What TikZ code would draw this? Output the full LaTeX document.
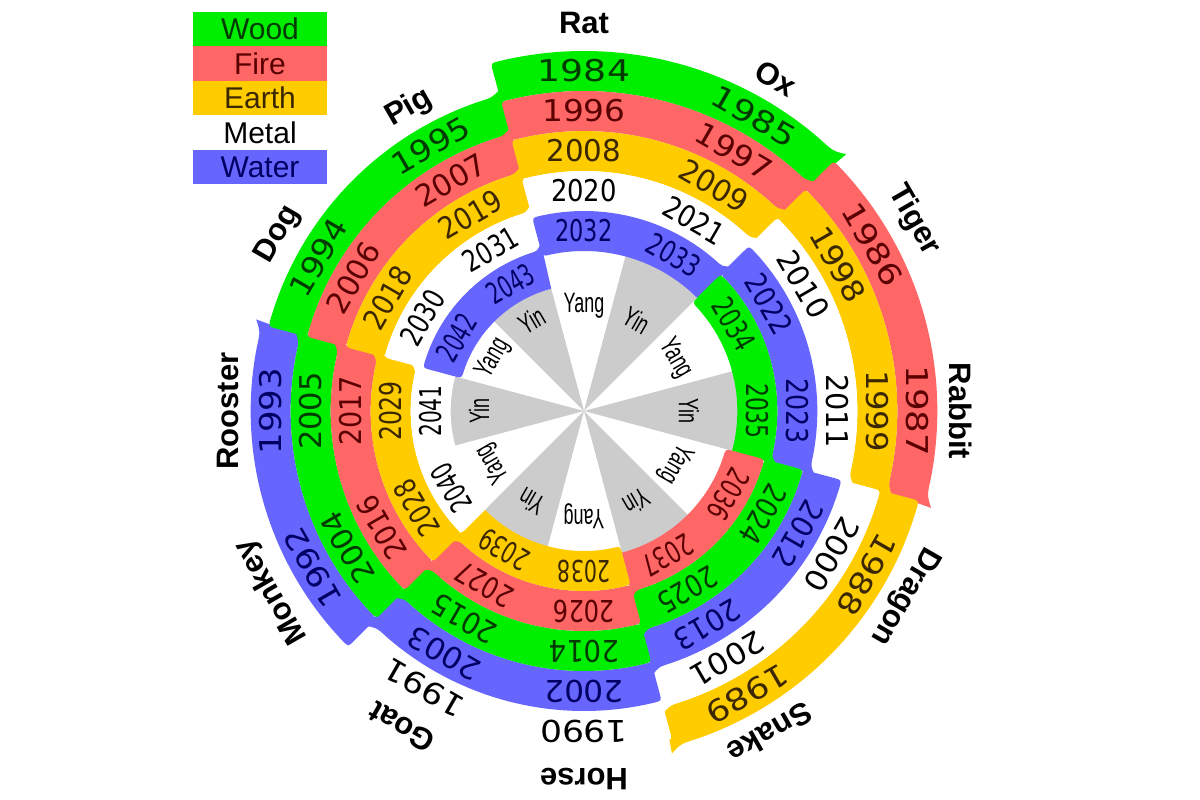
\documentclass[tikz,border=0pt]{standalone}
\usepackage{fontspec}
\usepackage{graphicx}
\setmainfont{Liberation Sans}
\newfontfamily\yearfont{DejaVu Sans}
\definecolor{c0}{RGB}{0,238,0}
\definecolor{c1}{RGB}{255,102,102}
\definecolor{c2}{RGB}{255,204,0}
\definecolor{c3}{RGB}{255,255,255}
\definecolor{c4}{RGB}{102,102,255}
\definecolor{t0}{RGB}{0,60,0}
\definecolor{t1}{RGB}{90,0,0}
\definecolor{t2}{RGB}{60,40,0}
\definecolor{t3}{RGB}{0,0,0}
\definecolor{t4}{RGB}{0,0,100}
\definecolor{wedgegray}{RGB}{204,204,204}
\begin{document}
\begin{tikzpicture}[x=1pt,y=1pt,
  yeartext/.style={inner sep=0pt, font=\yearfont\fontsize{30}{30}\selectfont},
  animal/.style={inner sep=0pt, font=\bfseries\fontsize{31}{31}\selectfont},
  yylab/.style={inner sep=0pt, font=\fontsize{28}{28}\selectfont},
  legtext/.style={inner sep=0pt, font=\fontsize{30}{30}\selectfont}]
\useasboundingbox (-584,-389) rectangle (616,411);
\fill[white] (-584,-389) rectangle (616,411);
% yin / yang wedges
\foreach \jj in {0,...,11}{
  \pgfmathsetmacro\myth{90-30*\jj}
  \pgfmathtruncatemacro\myodd{mod(\jj,2)}
  \ifnum\myodd=1
    \fill[wedgegray] (0,0) -- ({\myth+15}:163) arc[start angle={\myth+15}, end angle={\myth-15}, radius=163pt] -- cycle;
  \fi
}
% spiral bands
\foreach \myk in {0,...,29}{
  \pgfmathsetmacro\myrm{340-20*\myk/3}
  \pgfmathsetmacro\myri{\myrm-20}
  \pgfmathsetmacro\myro{\myrm+20}
  \pgfmathsetmacro\aone{105-60*\myk}
  \pgfmathsetmacro\atwo{45-60*\myk}
  \pgfmathtruncatemacro\myc{mod(\myk,5)}
  \pgfmathsetmacro\aA{\aone-8/\myri*57.2958}
  \pgfmathsetmacro\aB{\aone-8/\myro*57.2958}
  \pgfmathsetmacro\aC{\atwo+4}
  \pgfmathsetmacro\aD{\atwo+1.2}
  \pgfmathsetmacro\aT{\atwo-0.6}
  \pgfmathsetmacro\rA{\myri+8}
  \pgfmathsetmacro\rB{\myro-8}
  \pgfmathsetmacro\rT{\myro+7}
  \fill[c\myc] (\atwo:\myri) arc[start angle=\atwo, end angle=\aA, radius=\myri pt]
     .. controls (\aone:\myri) .. (\aone:\rA) -- (\aone:\rB)
     .. controls (\aone:\myro) .. (\aB:\myro)
     arc[start angle=\aB, end angle=\aC, radius=\myro pt]
     .. controls (\aD:\myro) .. (\aT:\rT) -- cycle;
}
% years
\foreach \myi in {0,...,59}{
  \pgfmathtruncatemacro\myk{int(\myi/2)}
  \pgfmathsetmacro\myr{340-20*\myk/3}
  \pgfmathsetmacro\myth{90-30*\myi}
  \pgfmathtruncatemacro\myc{mod(\myk,5)}
  \pgfmathsetmacro\myxs{(17.6+0.219*\myr)/76.3}
  \pgfmathtruncatemacro\myY{1984+\myi}
  \node[yeartext, text=t\myc, rotate=\myth-90] (yr\myY) at (\myth:\myr) {\scalebox{\myxs}[1]{\myY}};
}
% yin / yang labels
\foreach \jj in {0,...,11}{
  \pgfmathsetmacro\myth{90-30*\jj}
  \pgfmathtruncatemacro\myodd{mod(\jj,2)}
  \node[yylab, rotate=\myth-90] (yy\jj) at (\myth:105) {\scalebox{0.64}[1]{\ifnum\myodd=1 Yin\else Yang\fi}};
}
% animals
\foreach \nm/\rr [count=\jj from 0] in {Rat/388,Ox/384,Tiger/381,Rabbit/377,Dragon/370,Snake/372,Horse/368,Goat/365,Monkey/361,Rooster/356,Dog/353,Pig/350}{
  \pgfmathsetmacro\myth{90-30*\jj}
  \node[animal, rotate=\myth-90] (an-\nm) at (\myth:\rr) {\nm};
}
% legend
\foreach \nm [count=\jj from 0] in {Wood,Fire,Earth,Metal,Water}{
  \fill[c\jj] (-391,{399-34.5*\jj}) rectangle (-257,{364.5-34.5*\jj});
  \node[legtext, text=t\jj] (leg-\nm) at (-324,{381.75-34.5*\jj}) {\nm};
}
\end{tikzpicture}
\end{document}
